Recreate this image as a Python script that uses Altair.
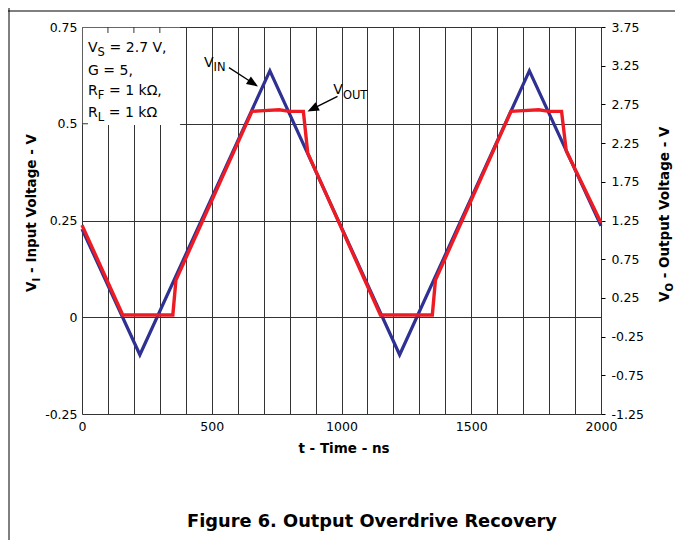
import altair as alt
import pandas as pd

# ---- data ----
# input voltage V_I (left axis, volts) vs time (ns)
t_in = [0, 223, 724, 1224, 1724, 2000]
v_in = [0.228, -0.097, 0.637, -0.097, 0.637, 0.236]

# output voltage V_O (right axis, volts) vs time (ns)
t_out = [0, 157, 350, 362, 655, 700, 760, 800, 853, 870, 1150, 1350, 1362,
         1653, 1700, 1760, 1800, 1848, 1866, 2000]
v_out = [1.19, 0.03, 0.03, 0.48, 2.66, 2.67, 2.68, 2.66, 2.66, 2.12, 0.03, 0.03, 0.48,
         2.66, 2.67, 2.68, 2.66, 2.66, 2.15, 1.22]

x_ticks = list(range(0, 2001, 100))
yl_ticks = [-0.25, 0, 0.25, 0.5, 0.75]
yr_ticks = [-1.25, -0.75, -0.25, 0.25, 0.75, 1.25, 1.75, 2.25, 2.75, 3.25, 3.75]

df_in = pd.DataFrame({"t": t_in, "v": v_in})
df_out = pd.DataFrame({"t": t_out, "v": v_out})

FONT = "DejaVu Sans"
BLUE = "#2e3192"
RED = "#ed1c24"
GRID = "#333333"
W, H = 519, 387

x_scale = alt.Scale(domain=[0, 2000], nice=False, zero=False)
yl_scale = alt.Scale(domain=[-0.25, 0.75], nice=False, zero=False)
yr_scale = alt.Scale(domain=[-1.25, 3.75], nice=False, zero=False)

x_axis = alt.Axis(values=x_ticks, labelExpr="datum.value % 500 == 0 ? '' + datum.value : ''",
                  grid=True, gridColor=GRID, gridWidth=1, gridOpacity=1, ticks=False,
                  domain=False, labelFont=FONT, labelFontSize=12.5, labelColor="black",
                  labelPadding=6, labelFlush=False, title=None)
yl_axis = alt.Axis(orient="left", values=yl_ticks, labelExpr="'' + datum.value",
                   grid=True, gridColor=GRID, gridWidth=1, gridOpacity=1, ticks=False,
                   domain=False, labelFont=FONT, labelFontSize=12.5, labelColor="black",
                   labelPadding=5, labelFlush=False, title=None)
yr_axis = alt.Axis(orient="right", values=yr_ticks, labelExpr="'' + datum.value",
                   grid=False, ticks=True, tickSize=4, tickColor="black", tickWidth=1,
                   domain=False, labelFont=FONT, labelFontSize=12.5, labelColor="black",
                   labelPadding=6, labelFlush=False, title=None)

ONE = alt.Data(values=[{}])


def txt(s, x, y, size, bold=False, angle=None, align="left", baseline="alphabetic"):
    kw = dict(text=s, fontSize=size, font=FONT, align=align, baseline=baseline, color="black")
    if bold:
        kw["fontWeight"] = "bold"
    if angle is not None:
        kw["angle"] = angle
    return alt.Chart(ONE).mark_text(**kw).encode(x=alt.value(x), y=alt.value(y))


def prule(x1, y1, x2, y2, w=1.0):
    return alt.Chart(ONE).mark_rule(color="black", strokeWidth=w).encode(
        x=alt.value(x1), x2=alt.value(x2), y=alt.value(y1), y2=alt.value(y2))


def head(x, y, ang):
    return alt.Chart(ONE).mark_point(shape="M 1 0 L -1 -0.8 L -1 0.8 Z", filled=True,
                                     color="black", opacity=1, size=130, angle=ang).encode(
        x=alt.value(x), y=alt.value(y))


# white legend box covering the grid in the upper-left corner
box = alt.Chart(alt.Data(values=[{"t0": 3, "t1": 378, "v0": 0.497, "v1": 0.748}])).mark_rect(
    color="white").encode(
    x=alt.X("t0:Q", scale=x_scale, axis=x_axis), x2="t1:Q",
    y=alt.Y("v0:Q", scale=yl_scale, axis=yl_axis), y2="v1:Q")

# small inner ticks left visible inside the box
ticks = alt.Chart(alt.Data(values=[
    {"a": 100, "b": 100, "c": 0.75, "d": 0.7345},
    {"a": 200, "b": 200, "c": 0.75, "d": 0.7345},
    {"a": 300, "b": 300, "c": 0.75, "d": 0.7345},
    {"a": 0, "b": 23, "c": 0.5, "d": 0.5},
])).mark_rule(color=GRID, strokeWidth=1).encode(
    x=alt.X("a:Q", scale=x_scale, axis=x_axis), x2="b:Q",
    y=alt.Y("c:Q", scale=yl_scale, axis=yl_axis), y2="d:Q")

blue = alt.Chart(df_in).mark_line(color=BLUE, strokeWidth=3.2).encode(
    x=alt.X("t:Q", scale=x_scale, axis=x_axis),
    y=alt.Y("v:Q", scale=yl_scale, axis=yl_axis))

red = alt.Chart(df_out).mark_line(color=RED, strokeWidth=3.4).encode(
    x=alt.X("t:Q", scale=x_scale, axis=x_axis),
    y=alt.Y("v:Q", scale=yr_scale, axis=yr_axis))

S = 14      # annotation font size
SUB = 11.5  # subscript font size
annot = [
    txt("V", 6, 25, S), txt("S", 15.6, 29, SUB), txt("= 2.7 V,", 27.6, 25, S),
    txt("G = 5,", 6, 47.5, S),
    txt("R", 6, 67.5, S), txt("F", 15.7, 71.5, SUB), txt("= 1 k\u03a9,", 27.0, 67.5, S),
    txt("R", 6, 90, S), txt("L", 15.7, 94, SUB), txt("= 1 k\u03a9", 26.8, 90, S),
    # V_IN label + arrow
    txt("V", 122, 39.7, S), txt("IN", 131.6, 44, SUB),
    prule(147, 40.6, 168, 54.3, 1.3), head(171.2, 56.4, 33),
    # V_OUT label + arrow
    txt("V", 251.3, 67, S), txt("OUT", 260.9, 71.5, SUB),
    prule(255.5, 69.3, 233, 80.7, 1.3), head(230.6, 82.0, 153),
    # axis titles
    txt("t - Time - ns", 262, 422, 13.5, bold=True, align="center", baseline="middle"),
    txt("V", -46, 265, 13.5, bold=True, angle=270),
    txt("I", -42, 254.6, 10, bold=True, angle=270),
    txt("- Input Voltage - V", -46, 245.9, 13.5, bold=True, angle=270),
    txt("V", 587, 275, 13.5, bold=True, angle=270),
    txt("O", 591, 264.6, 10, bold=True, angle=270),
    txt("- Output Voltage - V", 587, 251.3, 13.5, bold=True, angle=270),
    # figure caption
    txt("Figure 6. Output Overdrive Recovery", 290, 495, 17.8, bold=True,
        align="center", baseline="middle"),
    # page frame
    prule(-73, -27, -73, 530), prule(597, -27, 597, 530), prule(-82, -16, 597, -16),
]

left_layer = alt.layer(box, ticks, blue, *annot)

chart = alt.layer(left_layer, red).resolve_scale(y="independent").properties(
    width=W, height=H,
    autosize=alt.AutoSizeParams(type="none"),
    padding={"left": 74, "top": 19, "right": 74, "bottom": 126},
).configure_view(stroke="black", strokeWidth=1).configure(background="white")

chart.save("out.html", embed_options={"renderer": "svg", "actions": False})
